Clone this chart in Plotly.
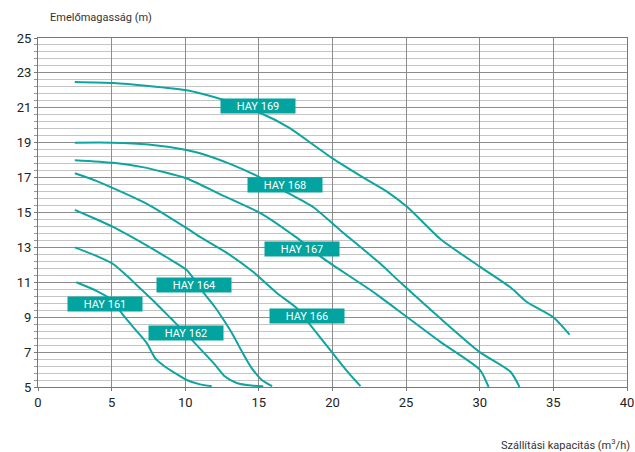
import plotly.graph_objects as go

# Curve data (x: m3/h, y: head m)
hay169_x = [2.5, 5.1, 7.5, 10.1, 11.0, 12.4, 15.1, 17.1, 18.5, 20.0, 21.9, 23.7, 25.1, 27.3, 30.0, 32.1, 33.2, 35.0, 36.1]
hay169_y = [22.48, 22.42, 22.25, 22.0, 21.83, 21.5, 20.7, 19.84, 19.0, 18.1, 17.1, 16.2, 15.3, 13.5, 11.9, 10.7, 9.87, 9.0, 8.0]

hay168_x = [2.5, 5.0, 7.5, 10.0, 11.0, 13.0, 15.1, 16.8, 18.7, 20.5, 23.2, 24.6, 27.3, 30.0, 32.1, 32.7]
hay168_y = [19.0, 19.0, 18.9, 18.6, 18.4, 17.8, 17.0, 16.2, 15.3, 14.0, 12.1, 11.0, 8.95, 7.0, 5.86, 5.0]

hay167_x = [2.5, 5.1, 7.1, 10.1, 12.5, 15.1, 17.5, 19.2, 20.0, 22.5, 23.2, 24.6, 27.3, 30.0, 30.6]
hay167_y = [18.0, 17.85, 17.6, 16.95, 16.0, 14.97, 13.6, 12.47, 12.0, 10.6, 10.18, 9.3, 7.6, 6.0, 5.0]

hay166_x = [2.5, 4.0, 5.1, 7.4, 10.1, 11.0, 12.8, 14.6, 16.2, 17.6, 18.5, 20.0, 21.0, 21.9]
hay166_y = [17.25, 16.8, 16.4, 15.5, 14.1, 13.6, 12.7, 11.6, 10.4, 9.5, 8.55, 6.95, 5.9, 5.05]

hay164_x = [2.5, 4.0, 5.1, 7.4, 8.7, 10.1, 11.2, 12.0, 12.6, 13.3, 13.9, 14.5, 15.2, 15.9]
hay164_y = [15.15, 14.6, 14.17, 13.1, 12.45, 11.7, 10.45, 9.6, 8.85, 7.9, 6.95, 6.1, 5.4, 5.05]

hay162_x = [2.5, 4.0, 5.1, 6.0, 7.0, 8.0, 9.0, 10.0, 11.0, 12.0, 12.7, 13.5, 14.5, 15.3]
hay162_y = [13.0, 12.5, 12.05, 11.4, 10.6, 9.8, 8.95, 8.1, 7.2, 6.3, 5.6, 5.23, 5.08, 5.05]

hay161_x = [2.6, 4.0, 5.0, 5.8, 6.6, 7.4, 7.95, 8.5, 9.3, 10.1, 11.0, 11.8]
hay161_y = [11.0, 10.5, 10.0, 9.1, 8.3, 7.5, 6.66, 6.25, 5.8, 5.4, 5.15, 5.05]

series_names = ["HAY 169", "HAY 168", "HAY 167", "HAY 166", "HAY 164", "HAY 162", "HAY 161"]
series_x = [hay169_x, hay168_x, hay167_x, hay166_x, hay164_x, hay162_x, hay161_x]
series_y = [hay169_y, hay168_y, hay167_y, hay166_y, hay164_y, hay162_y, hay161_y]

# label anchor positions (data coords)
label_x = [14.95, 16.8, 17.9, 18.3, 10.6, 10.05, 4.55]
label_y = [21.1, 16.58, 12.9, 9.07, 10.87, 8.1, 9.76]

y_ticks = [5, 7, 9, 11, 13, 15, 17, 19, 21, 23, 25]
x_ticks = [0, 5, 10, 15, 20, 25, 30, 35, 40]

TEAL = "#0ea5a1"
LABEL_BG = "#03a39f"
TITLE_FONT = dict(family="Liberation Sans Narrow, Roboto, sans-serif", size=11, color="#333")

fig = go.Figure()
for name, xs, ys in zip(series_names, series_x, series_y):
    fig.add_trace(go.Scatter(x=xs, y=ys, mode="lines", name=name,
                             line=dict(color=TEAL, width=2, shape="spline", smoothing=0.6),
                             showlegend=False, hoverinfo="skip"))

for name, lx, ly in zip(series_names, label_x, label_y):
    fig.add_annotation(x=lx, y=ly, xref="x", yref="y", text=name, showarrow=False,
                       bgcolor=LABEL_BG, width=74, height=14, borderpad=0,
                       font=dict(family="Roboto, sans-serif", size=11, color="white"))

fig.add_annotation(x=0.017, y=1.06, xref="paper", yref="paper", text="Emelőmagasság (m)",
                   showarrow=False, xanchor="left", yanchor="middle", font=TITLE_FONT)
fig.add_annotation(x=1.0085, y=-0.166, xref="paper", yref="paper", text="Szállítási kapacitás (m<sup>3</sup>/h)",
                   showarrow=False, xanchor="right", yanchor="middle", font=TITLE_FONT)

fig.update_layout(
    width=635, height=452,
    margin=dict(l=38, r=8, t=38, b=65, autoexpand=False),
    paper_bgcolor="white", plot_bgcolor="white",
    font=dict(family="Roboto, sans-serif", size=13, color="#222"),
)
fig.update_xaxes(range=[0, 40], tickvals=x_ticks, showgrid=True, gridcolor="#8c8c8c", gridwidth=1,
                 showline=True, linecolor="#777", linewidth=1, mirror=True, automargin=False,
                 ticks="outside", ticklen=3, tickcolor="#777", zeroline=False,
                 tickfont=dict(size=13, color="#222"))
fig.update_yaxes(range=[5, 25], tick0=5, dtick=2, showgrid=True, gridcolor="#8c8c8c", gridwidth=1,
                 showline=True, linecolor="#777", linewidth=1, mirror=True, automargin=False,
                 ticks="outside", ticklen=3, tickcolor="#777", zeroline=False,
                 minor=dict(tick0=5, dtick=0.4, showgrid=True, gridcolor="#c4c4c4", gridwidth=1,
                            ticks="outside", ticklen=3, tickcolor="#999"),
                 tickfont=dict(size=13, color="#222"))

fig.write_html("out.html", config={"displayModeBar": False},
               post_script="document.body.style.margin='0';document.body.style.overflow='hidden';")
